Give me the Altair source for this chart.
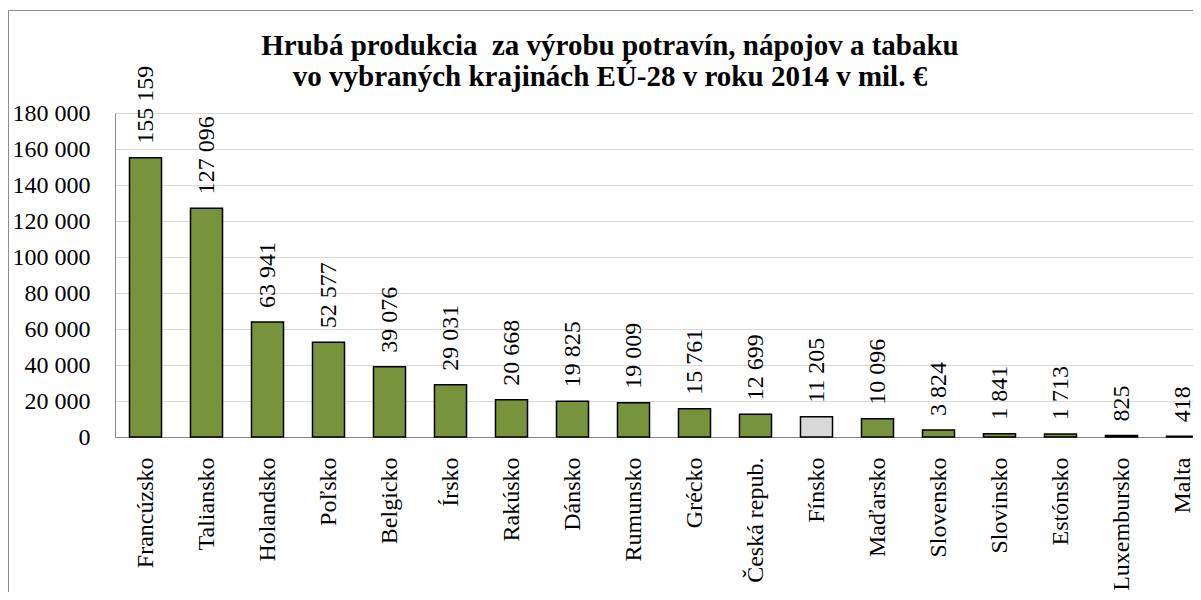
import altair as alt
import pandas as pd

countries = ["Francúzsko", "Taliansko", "Holandsko", "Poľsko", "Belgicko", "Írsko",
             "Rakúsko", "Dánsko", "Rumunsko", "Grécko", "Česká repub.", "Fínsko",
             "Maďarsko", "Slovensko", "Slovinsko", "Estónsko", "Luxembursko", "Malta"]
values = [155159, 127096, 63941, 52577, 39076, 29031, 20668, 19825, 19009, 15761,
          12699, 11205, 10096, 3824, 1841, 1713, 825, 418]
highlight = ["Fínsko"]
y_ticks = [0, 20000, 40000, 60000, 80000, 100000, 120000, 140000, 160000, 180000]
title_lines = ["Hrubá produkcia\u00a0 za výrobu potravín, nápojov a tabaku",
               "vo vybraných krajinách EÚ-28 v roku 2014 v mil. €"]

df = pd.DataFrame({"country": countries, "value": values})
df["lbl"] = [f"{v:,}".replace(",", " ") for v in values]
df["grp"] = ["gray" if c in highlight else "green" for c in countries]

FONT = "Liberation Serif"

xenc = alt.X("country:N", sort=countries, title=None,
             scale=alt.Scale(range=[0, 1098], paddingInner=0.475, paddingOuter=0.2375),
             axis=alt.Axis(labelAngle=-90, labelFont=FONT, labelFontSize=24, labelColor="black",
                           labelPadding=20, ticks=False, domainColor="#868686", domainWidth=1,
                           labelOverlap=False, labelLimit=0))
yenc = alt.Y("value:Q", title=None,
             scale=alt.Scale(domain=[0, 180000], nice=False),
             axis=alt.Axis(values=y_ticks,
                           labelExpr="replace(format(datum.value, ','), ',', ' ')",
                           labelFont=FONT, labelFontSize=24, labelColor="black",
                           labelOverlap=False, labelBound=False, labelFlush=False,
                           labelPadding=25, ticks=False, domainColor="#868686",
                           gridColor="#d9d9d9", gridWidth=1))

base = alt.Chart(df)
bars = base.mark_bar(stroke="black", strokeWidth=1.5).encode(
    x=xenc, y=yenc,
    color=alt.Color("grp:N", scale=alt.Scale(domain=["green", "gray"], range=["#77933C", "#D9D9D9"]),
                    legend=None),
)
labels = base.mark_text(angle=270, align="left", baseline="middle", dx=14,
                        font=FONT, fontSize=24, color="black").encode(
    x=xenc, y=yenc, text="lbl:N")

one = pd.DataFrame({"a": [0]})
t1 = alt.Chart(one).mark_text(font=FONT, fontSize=29, fontWeight="bold", color="black",
                              align="center", baseline="alphabetic").encode(
    x=alt.value(495), y=alt.value(-58), text=alt.value(title_lines[0]))
t2 = alt.Chart(one).mark_text(font=FONT, fontSize=29, fontWeight="bold", color="black",
                              align="center", baseline="alphabetic").encode(
    x=alt.value(495), y=alt.value(-27), text=alt.value(title_lines[1]))
border = alt.Chart(one).mark_rect(filled=False, stroke="#8c8c8c", strokeWidth=1).encode(
    x=alt.value(-106.5), x2=alt.value(1300), y=alt.value(-102.5), y2=alt.value(700))

chart = alt.layer(bars, labels, t1, t2, border).properties(
    width=1078, height=324,
    autosize=alt.AutoSizeParams(type="none"),
    padding={"left": 107, "top": 105, "right": 0, "bottom": 155},
).configure_view(stroke=None).configure(background="white")

chart.save("out.html", embed_options={"renderer": "svg", "actions": False})
